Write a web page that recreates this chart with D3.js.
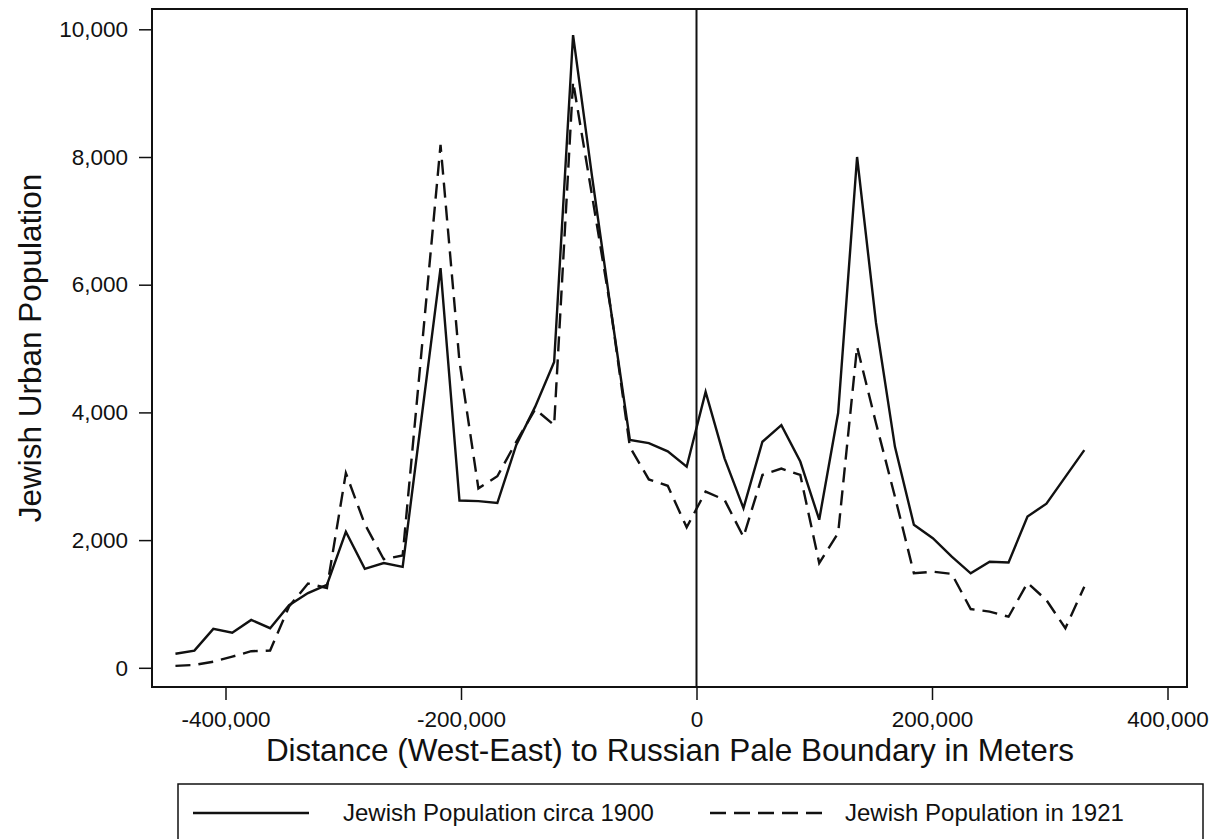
<!DOCTYPE html>
<html>
<head>
<meta charset="utf-8">
<script src="https://cdn.jsdelivr.net/npm/d3@7"></script>
<style>
  body { margin: 0; background: #fff; }
  text { font-family: "Liberation Sans", Arial, sans-serif; fill: #111; }
</style>
</head>
<body>
<div id="chart"></div>
<script>
var w = 1221,
    h = 839;

// distance bins (meters, west-east to the Pale boundary)
var distance = [-442500, -426420, -410340, -394260, -378180, -362100, -346020, -329940,
  -313860, -297780, -281700, -265620, -249540, -233460, -217380, -201300, -185220,
  -169140, -153060, -136980, -120900, -104820, -88740, -72660, -56580, -40500, -24420,
  -8340, 7740, 23820, 39900, 55980, 72060, 88140, 104220, 120300, 136380, 152460,
  168540, 184620, 200700, 216780, 232860, 248940, 265020, 281100, 297180, 313260, 329340];

var pop1900 = [220, 270, 610, 550, 750, 620, 980, 1170, 1300, 2130, 1550, 1640, 1580,
  3920, 6260, 2620, 2610, 2580, 3490, 4090, 4790, 9910, 7700, 5600, 3570, 3520, 3390,
  3150, 4320, 3280, 2500, 3540, 3800, 3230, 2320, 3990, 8000, 5400, 3460, 2240, 2030,
  1740, 1480, 1660, 1650, 2370, 2570, 2990, 3410];

var pop1921 = [30, 45, 95, 175, 260, 270, 960, 1320, 1250, 3050, 2250, 1700, 1760,
  4970, 8190, 4800, 2810, 3000, 3540, 4050, 3800, 9180, 7400, 5600, 3460, 2950, 2850,
  2200, 2760, 2630, 2050, 3020, 3120, 3020, 1640, 2110, 5030, 3830, 2680, 1480, 1505,
  1470, 920, 880, 800, 1330, 1060, 620, 1270];

var xTicks = [-400000, -200000, 0, 200000, 400000],
    yTicks = [0, 2000, 4000, 6000, 8000, 10000];

var series = [
  { name: "Jewish Population circa 1900", values: pop1900, dash: null },
  { name: "Jewish Population in 1921", values: pop1921, dash: "15,8" }
];

var frame = { left: 152, right: 1187, top: 9, bottom: 687 };

var x = d3.scaleLinear().domain([-400000, 400000]).range([225.5, 1167.5]);
var y = d3.scaleLinear().domain([0, 10000]).range([667.8, 29.3]);
var fmt = function(d) { return d3.format(",")(d).replace("\u2212", "-"); };

var svg = d3.select("#chart").append("svg")
  .attr("width", w)
  .attr("height", h);

// axes
var xAxis = svg.append("g")
  .attr("transform", "translate(0," + frame.bottom + ")")
  .call(d3.axisBottom(x).tickValues(xTicks).tickFormat(fmt).tickSize(13).tickPadding(11));

var yAxis = svg.append("g")
  .attr("transform", "translate(" + frame.left + ",0)")
  .call(d3.axisLeft(y).tickValues(yTicks).tickFormat(fmt).tickSize(13).tickPadding(11));

[xAxis, yAxis].forEach(function(g) {
  g.select(".domain").remove();
  g.selectAll(".tick line").attr("stroke", "#111").attr("stroke-width", 1.5);
  g.selectAll(".tick text").attr("font-size", 22.5).attr("fill", "#111")
    .attr("font-family", '"Liberation Sans", Arial, sans-serif');
});

// frame
svg.append("rect")
  .attr("x", frame.left)
  .attr("y", frame.top)
  .attr("width", frame.right - frame.left)
  .attr("height", frame.bottom - frame.top)
  .attr("fill", "none")
  .attr("stroke", "#111")
  .attr("stroke-width", 2);

// pale boundary
svg.append("line")
  .attr("x1", x(0)).attr("x2", x(0))
  .attr("y1", frame.top).attr("y2", frame.bottom)
  .attr("stroke", "#111")
  .attr("stroke-width", 2);

var line = d3.line()
  .x(function(d, i) { return x(distance[i]); })
  .y(function(d) { return y(d); });

svg.selectAll(".series")
  .data(series)
  .enter().append("path")
  .attr("class", "series")
  .attr("d", function(d) { return line(d.values); })
  .attr("fill", "none")
  .attr("stroke", "#111")
  .attr("stroke-width", 2.4)
  .attr("stroke-linejoin", "miter")
  .attr("stroke-dasharray", function(d) { return d.dash; });

// titles
svg.append("text")
  .attr("x", 670)
  .attr("y", 761)
  .attr("text-anchor", "middle")
  .attr("font-size", 31.5)
  .text("Distance (West-East) to Russian Pale Boundary in Meters");

svg.append("text")
  .attr("transform", "translate(41,348) rotate(-90)")
  .attr("text-anchor", "middle")
  .attr("font-size", 31.5)
  .text("Jewish Urban Population");

// legend
svg.append("rect")
  .attr("x", 178)
  .attr("y", 784)
  .attr("width", 1025)
  .attr("height", 80)
  .attr("fill", "none")
  .attr("stroke", "#111")
  .attr("stroke-width", 1.5);

var legendX = [193, 710];

var item = svg.selectAll(".legend")
  .data(series)
  .enter().append("g")
  .attr("class", "legend")
  .attr("transform", function(d, i) { return "translate(" + legendX[i] + ",813)"; });

item.append("line")
  .attr("x1", 0).attr("x2", 116)
  .attr("stroke", "#111")
  .attr("stroke-width", 2.4)
  .attr("stroke-dasharray", function(d) { return d.dash ? "16,8" : null; });

item.append("text")
  .attr("x", function(d, i) { return i ? 135 : 150; })
  .attr("y", 8)
  .attr("font-size", 24)
  .text(function(d) { return d.name; });
</script>
</body>
</html>
